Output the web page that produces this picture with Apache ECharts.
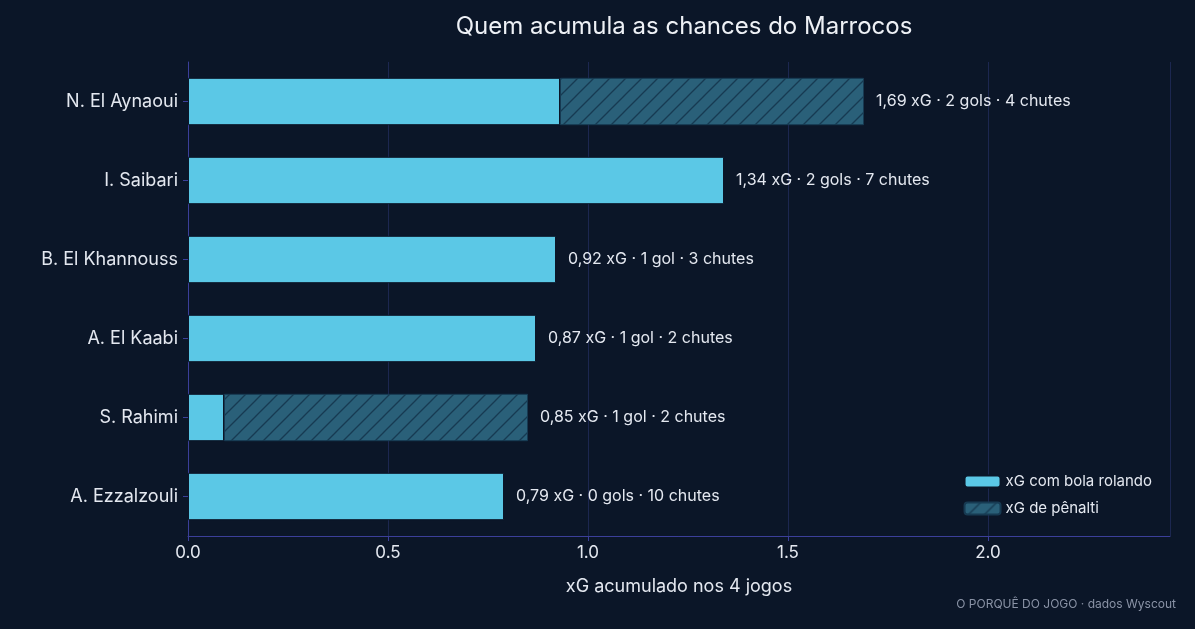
<!DOCTYPE html><html><head><meta charset="utf-8">
<script src="https://cdn.jsdelivr.net/npm/echarts@6/dist/echarts.min.js"></script>
<style>html,body{margin:0;background:#0b1628}#c{width:1195px;height:629px}</style></head><body><div id="c"></div>
<script>
const players=["A. Ezzalzouli","S. Rahimi","A. El Kaabi","B. El Khannouss","I. Saibari","N. El Aynaoui"];
const openPlay=[0.79,0.09,0.87,0.92,1.34,0.93];
const penalty=[0,0.76,0,0,0,0.76];
const labels=["0,79 xG · 0 gols · 10 chutes","0,85 xG · 1 gol · 2 chutes","0,87 xG · 1 gol · 2 chutes","0,92 xG · 1 gol · 3 chutes","1,34 xG · 2 gols · 7 chutes","1,69 xG · 2 gols · 4 chutes"];
const cv=document.createElement('canvas');cv.width=16;cv.height=16;
const g=cv.getContext('2d');g.fillStyle='#2a6079';g.fillRect(0,0,16,16);
g.strokeStyle='#173a52';g.lineWidth=1.3;
g.beginPath();g.moveTo(0,16);g.lineTo(16,0);g.moveTo(-4,4);g.lineTo(4,-4);g.moveTo(12,20);g.lineTo(20,12);g.stroke();
const lab={show:true,position:'right',distance:12,color:'#e4e8f0',fontSize:16,fontFamily:'Inter'};
const openData=openPlay.map((v,i)=>({value:v,label:penalty[i]?{show:false}:Object.assign({},lab,{formatter:labels[i]})}));
const penData=penalty.map((v,i)=>({value:v||null,label:v?Object.assign({},lab,{formatter:labels[i]}):{show:false}}));
const ch=echarts.init(document.getElementById('c'));
ch.setOption({backgroundColor:'#0b1628',textStyle:{fontFamily:'Inter'},
title:[{text:'Quem acumula as chances do Marrocos',left:679,top:10,textAlign:'center',textStyle:{color:'#eef1f6',fontSize:24,fontWeight:'normal',fontFamily:'Inter'}},
{text:'O PORQUÊ DO JOGO · dados Wyscout',right:14,bottom:14,textStyle:{color:'#8a93a6',fontSize:12,fontWeight:'normal',fontFamily:'Inter'}}],
grid:{left:188,right:25,top:62,bottom:93},
legend:{right:38,bottom:108,orient:'vertical',itemWidth:36,itemHeight:12,itemGap:12,textStyle:{color:'#e4e8f0',fontSize:15,fontFamily:'Inter'},data:['xG com bola rolando','xG de pênalti']},
xAxis:{type:'value',min:0,max:2.455,interval:0.5,axisLine:{show:true,lineStyle:{color:'#3b3f9a'}},axisTick:{show:true,lineStyle:{color:'#3b3f9a'}},
axisLabel:{color:'#e4e8f0',fontSize:17,formatter:v=>v.toFixed(1),showMaxLabel:false},splitLine:{lineStyle:{color:'#1c2750'}},
name:'xG acumulado nos 4 jogos',nameLocation:'middle',nameGap:42,nameTextStyle:{color:'#e4e8f0',fontSize:18}},
yAxis:{type:'category',data:players,axisLine:{lineStyle:{color:'#3b3f9a'}},axisTick:{show:true,alignWithLabel:true,lineStyle:{color:'#3b3f9a'}},axisLabel:{color:'#e4e8f0',fontSize:18,margin:10}},
series:[{name:'xG com bola rolando',type:'bar',stack:'a',barWidth:'60%',data:openData,itemStyle:{color:'#5bc8e6',borderColor:'#0b1628',borderWidth:1}},
{name:'xG de pênalti',type:'bar',stack:'a',barWidth:'60%',data:penData,itemStyle:{color:{image:cv,repeat:'repeat'},borderColor:'#173a52',borderWidth:1}}]});
</script></body></html>
